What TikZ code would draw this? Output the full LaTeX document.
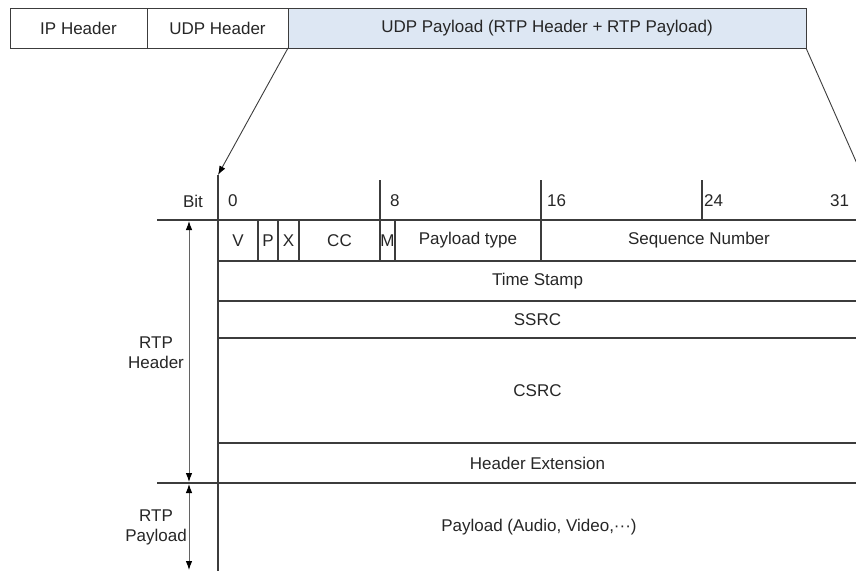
\documentclass[tikz,border=0pt]{standalone}
\usepackage{fontspec}
\setmainfont{Liberation Sans}
\usetikzlibrary{positioning,arrows.meta}
\definecolor{linegray}{HTML}{3C3C3C}
\definecolor{txtgray}{HTML}{262626}
\definecolor{payblue}{HTML}{DDE7F3}
\tikzset{
    >={Latex[length=9pt,width=6.5pt,color=black]},
    pkt/.style={
      rectangle,
      draw=linegray, line width=1pt,
      anchor=north west,
      inner sep=0pt, outer sep=0pt,
      minimum height=40pt,
      text centered},
    field/.style={
      rectangle,
      draw=linegray, line width=1.1pt,
      anchor=north west,
      inner sep=0pt, outer sep=0pt,
      text centered},
    bitnum/.style={anchor=west, inner sep=0pt},
    rule/.style={draw=linegray, line width=1.1pt},
    conn/.style={draw=linegray, line width=0.9pt},
    dim/.style={draw=linegray!80, line width=0.9pt, <->},
}
\begin{document}
\begin{tikzpicture}[x=1pt,y=-1pt,
    every node/.style={font=\fontsize{17}{20}\selectfont, text=txtgray}]
    \useasboundingbox (0,0) rectangle (856,570);
    \clip (0,0) rectangle (856,570);

    % packet on top
    \node[pkt, minimum width=137pt] (ip) at (10,8) {IP Header};
    \node[pkt, minimum width=141pt, right=0pt of ip] (udph) {UDP Header};
    \node[pkt, minimum width=518pt, right=0pt of udph, fill=payblue] (udpp) {UDP Payload (RTP Header + RTP Payload)};

    % bit numbers
    \node (bitlbl) at (193,201) {Bit};
    \node[bitnum] (b0) at (228,201) {0};
    \node[bitnum] (b8) at (390,201) {8};
    \node[bitnum] (b16) at (547,201) {16};
    \node[bitnum] (b24) at (704,201) {24};
    \node[bitnum] (b31) at (830,201) {31};

    % first word
    \node[field, minimum width=40pt, minimum height=41pt] (ver) at (218,220) {V};
    \node[field, minimum width=20pt, minimum height=41pt, right=0pt of ver] (pad) {P};
    \node[field, minimum width=21pt, minimum height=41pt, right=0pt of pad] (ext) {X};
    \node[field, minimum width=81pt, minimum height=41pt, right=0pt of ext] (cc) {CC};
    \node[field, minimum width=15pt, minimum height=41pt, right=0pt of cc] (mrk) {M};
    \node[field, minimum width=146pt, minimum height=41pt, right=0pt of mrk] (ptype) {Payload type};
    \node[field, minimum width=316pt, minimum height=41pt, right=0pt of ptype] (seqno) {Sequence Number};

    % remaining rows
    \node[field, minimum width=639pt, minimum height=40pt] (tstamp) at (218,261) {Time Stamp};
    \node[field, minimum width=639pt, minimum height=37pt] (ssrc) at (218,301) {SSRC};
    \node[field, minimum width=639pt, minimum height=105pt] (csrc) at (218,338) {CSRC};
    \node[field, minimum width=639pt, minimum height=40pt] (hdrext) at (218,443) {Header Extension};
    \node[field, minimum width=639pt, minimum height=100pt] (payload) at (218,483) {};
    \node (payloadtxt) at (539,527) {Payload (Audio, Video,···)};

    % side labels
    \node[align=center] (rtphdr) at (156,353) {RTP\\Header};
    \node[align=center] (rtppay) at (156,527) {RTP\\Payload};

    % ticks and rules
    \coordinate (tblTop) at (218,175);
    \coordinate (hdrTop) at (157,220);
    \coordinate (payTop) at (157,483);
    \draw[rule] (tblTop) -- (ver.north west);
    \draw[rule] (380,180) -- (mrk.north west);
    \draw[rule] (541,180) -- (ptype.north east);
    \draw[rule] (702,180) -- (702,220);
    \draw[rule] (hdrTop) -- (ver.north west);
    \draw[rule] (payTop) -- (payload.north west);

    % zoom lines
    \coordinate (rightEnd) at (862,175);
    \draw[conn, ->] (udpp.south west) -- (tblTop);
    \draw[conn] (udpp.south east) -- (rightEnd);

    % dimension arrows
    \coordinate (hdrA) at (189,221);
    \coordinate (hdrB) at (189,482);
    \coordinate (payA) at (189,484);
    \coordinate (payB) at (189,570);
    \draw[dim] (hdrA) -- (hdrB);
    \draw[dim] (payA) -- (payB);
\end{tikzpicture}
\end{document}
